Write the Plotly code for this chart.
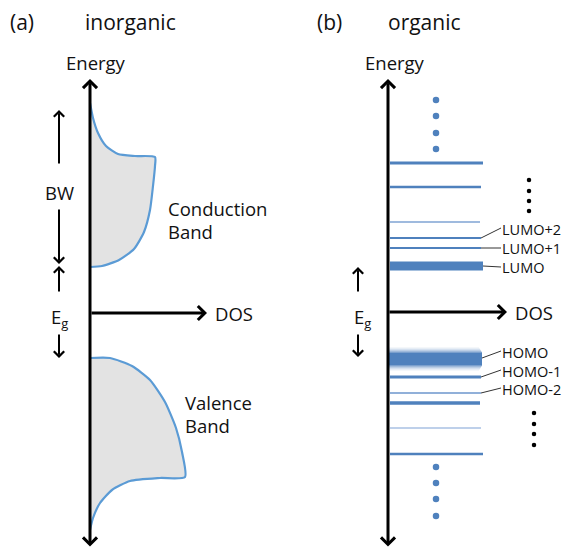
import plotly.graph_objects as go

# ---- panel (a): inorganic band picture (positions in figure units, y grows downward) ----
axis_a_x = 90
cb_x = [90, 93, 98, 106, 118, 135, 155, 155, 153, 150, 144, 134, 119, 102, 90]
cb_y = [103, 118, 133, 146, 154, 156, 157, 166, 186, 210, 232, 249, 260, 266, 267]
vb_x = [90, 110, 132, 150, 165, 176, 182, 185, 160, 130, 112, 100, 93, 90]
vb_y = [358, 358, 366, 380, 402, 428, 452, 477, 478, 481, 490, 503, 518, 530]

# ---- panel (b): discrete molecular levels ----
axis_b_x = 388
lvl_y = [163, 187, 222, 238, 248, 266, 377, 393, 403, 428, 454]
lvl_x1 = [483, 481, 480, 481, 481, 483, 481, 481, 480, 481, 483]
lvl_w = [3, 2.5, 1.5, 2, 2, 9, 3, 1.5, 3.5, 1.5, 2.5]
lvl_col = ["#4F81BD", "#4F81BD", "#7FA3D3", "#4F81BD", "#4F81BD", "#4F81BD",
           "#4F81BD", "#6C96CC", "#4F81BD", "#A9C1E3", "#4F81BD"]
homo_y = 359
homo_x1 = 482
homo_core = 12          # solid part of the broadened HOMO
homo_fade = [0.75, 0.55, 0.38, 0.24, 0.13, 0.06]   # soft edge, 1 px per step

blue_dots_x = [436] * 8
blue_dots_y = [100, 116, 133, 149, 467, 483, 499, 516]
black_dots_x = [529, 529, 529, 529, 534, 534, 534, 534]
black_dots_y = [180, 191, 201, 211, 413, 424, 434, 445]

labels = ["LUMO+2", "LUMO+1", "LUMO", "HOMO", "HOMO-1", "HOMO-2"]
label_y = [229, 248, 267, 352, 371, 389]
leader_from_x = [481, 481, 483, 482, 481, 481]
leader_from_y = [238, 248, 266, 358, 377, 393]

FONT = "Open Sans"
BLUE = "#4F81BD"
CURVE = "#5B9BD5"
INK = "#111111"

fig = go.Figure()

# band shapes
for bx, by in [(cb_x, cb_y), (vb_x, vb_y)]:
    fig.add_trace(go.Scatter(x=bx, y=by, mode="lines", fill="toself",
                             fillcolor="#E3E3E3",
                             line=dict(color=CURVE, width=2.2, shape="spline", smoothing=0.6),
                             hoverinfo="skip"))

# broadened HOMO: solid core with fading strokes above and below
fig.add_trace(go.Scatter(x=[axis_b_x, homo_x1], y=[homo_y, homo_y], mode="lines",
                         line=dict(color=BLUE, width=homo_core), hoverinfo="skip"))
for i, op in enumerate(homo_fade):
    d = homo_core / 2 + 0.5 + i
    for s in (-1, 1):
        fig.add_trace(go.Scatter(x=[axis_b_x, homo_x1 - i * 0.6],
                                 y=[homo_y + s * d, homo_y + s * d], mode="lines",
                                 line=dict(color=BLUE, width=1.05), opacity=op,
                                 hoverinfo="skip"))

# sharp levels
for y, x1, w, c in zip(lvl_y, lvl_x1, lvl_w, lvl_col):
    fig.add_trace(go.Scatter(x=[axis_b_x + 2, x1], y=[y, y], mode="lines",
                             line=dict(color=c, width=w), hoverinfo="skip"))

# leader lines to labels
for x0, y0, y1 in zip(leader_from_x, leader_from_y, label_y):
    fig.add_trace(go.Scatter(x=[x0, 501], y=[y0, y1 - 1 if y1 < y0 else y1],
                             mode="lines", line=dict(color="#333333", width=1),
                             hoverinfo="skip"))

# dots
fig.add_trace(go.Scatter(x=blue_dots_x, y=blue_dots_y, mode="markers",
                         marker=dict(color=BLUE, size=6.5), hoverinfo="skip"))
fig.add_trace(go.Scatter(x=black_dots_x, y=black_dots_y, mode="markers",
                         marker=dict(color="black", size=4.5), hoverinfo="skip"))

anns = []


def arrow(x0, y0, x1, y1, width=3, head=4, size=0.9, both=False):
    anns.append(dict(x=x1, y=y1, ax=x0, ay=y0, xref="x", yref="y", axref="x", ayref="y",
                     text="", showarrow=True, arrowhead=head, startarrowhead=head,
                     arrowside="end+start" if both else "end",
                     arrowwidth=width, arrowsize=size, startarrowsize=size,
                     arrowcolor="black"))


def label(x, y, txt, size=17, anchor="left"):
    anns.append(dict(x=x, y=y, xref="x", yref="y", text=txt, showarrow=False,
                     xanchor=anchor, yanchor="middle", borderpad=0,
                     font=dict(family=FONT, size=size, color=INK)))


# axes of both panels
for ax_x in [axis_a_x, axis_b_x]:
    arrow(ax_x, 548, ax_x, 79, both=True)
arrow(axis_a_x, 313, 207, 313)
arrow(axis_b_x, 312, 507, 312)

# band-width and gap markers
thin = dict(width=2, size=1.0)
arrow(59, 165, 59, 110, **thin)
arrow(59, 208, 59, 264, **thin)
arrow(59, 293, 59, 266, **thin)
arrow(59, 333, 59, 358, **thin)
arrow(358, 293, 358, 267, **thin)
arrow(358, 333, 358, 357, **thin)

# texts
label(9, 22, "(a)", 21)
label(84, 22, "inorganic", 21)
label(316, 22, "(b)", 21)
label(387, 22, "organic", 21)
label(96, 62, "Energy", 18.5, "center")
label(395, 62, "Energy", 18.5, "center")
label(59, 192, "BW", 18.5, "center")
label(59, 318, "E<sub>g</sub>", 18.5, "center")
label(362, 318, "E<sub>g</sub>", 18.5, "center")
label(214, 313, "DOS", 18.5)
label(514, 312, "DOS", 18.5)
label(167, 208, "Conduction", 18.5)
label(167, 231, "Band", 18.5)
label(184, 402, "Valence", 18.5)
label(184, 425, "Band", 18.5)
for t, y in zip(labels, label_y):
    label(501, y, t, 14.5)

fig.update_layout(
    width=567, height=550, margin=dict(l=0, r=0, t=0, b=0),
    paper_bgcolor="white", plot_bgcolor="white", showlegend=False,
    xaxis=dict(range=[0, 567], visible=False, fixedrange=True),
    yaxis=dict(range=[550, 0], visible=False, fixedrange=True),
    annotations=anns,
)

fig.write_html("out.html")
